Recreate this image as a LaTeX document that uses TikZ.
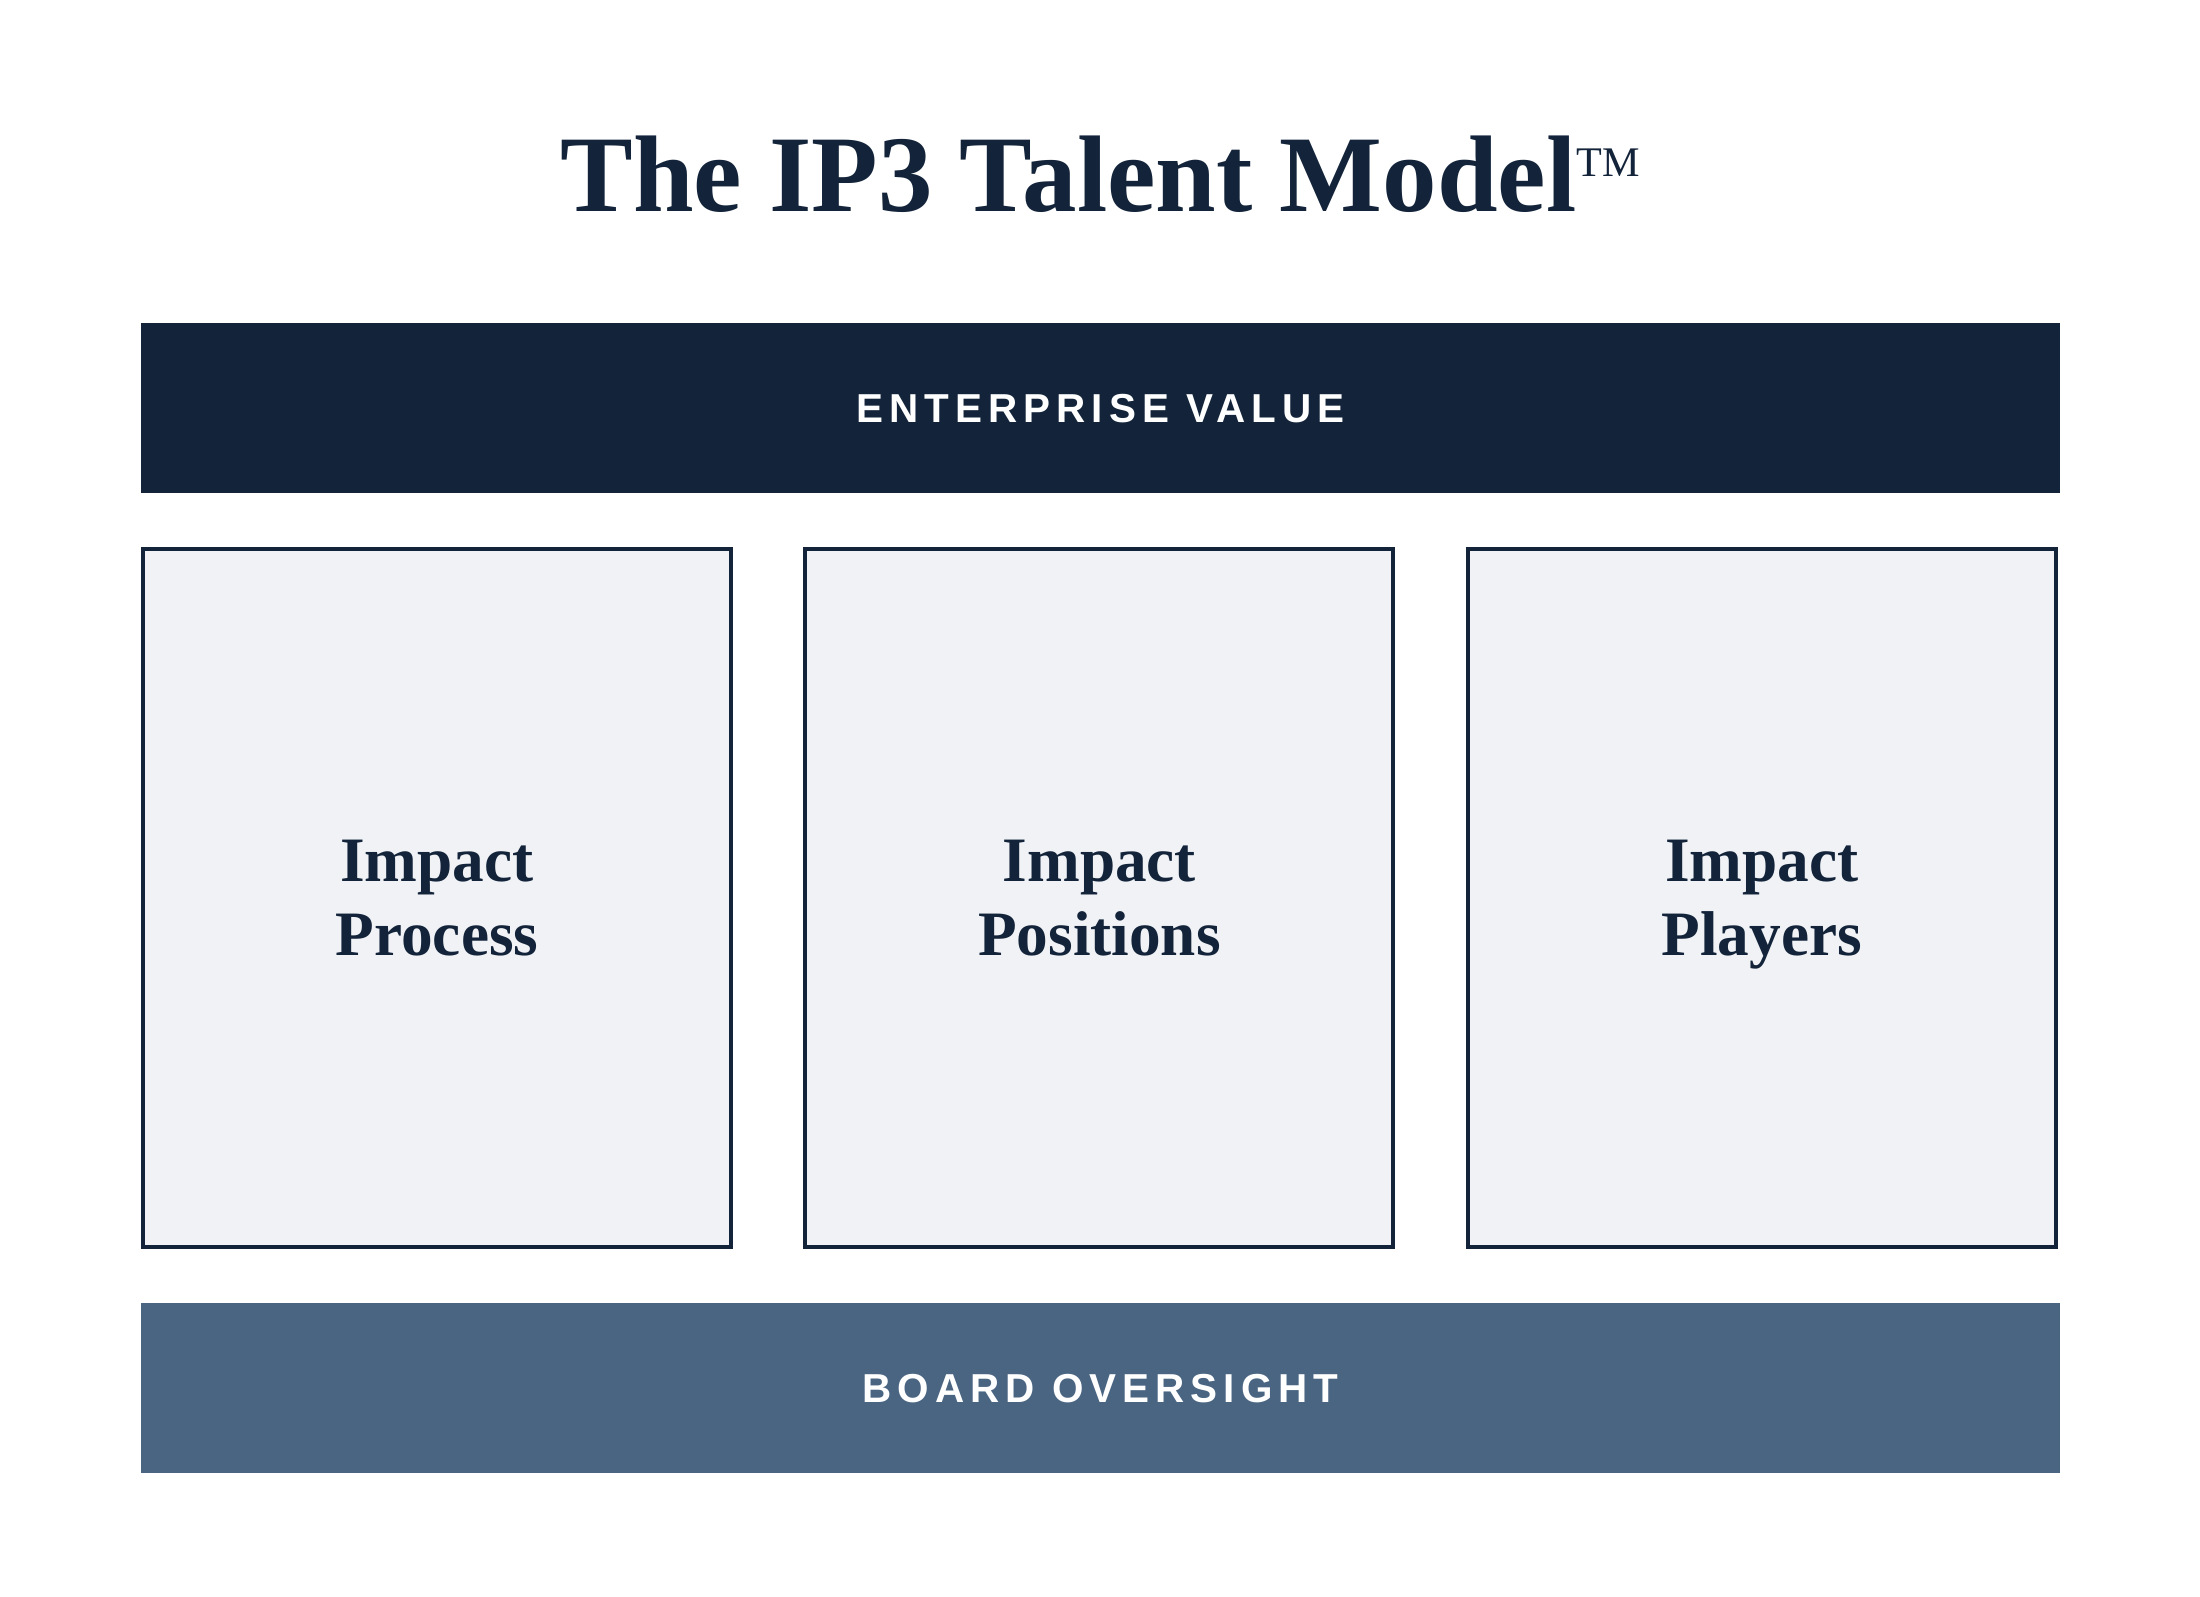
\documentclass[tikz,border=0pt]{standalone}
\usepackage{fontspec}
\setmainfont{Liberation Serif}
\newfontfamily\barfont[LetterSpace=15]{Liberation Sans}
\usepackage{tikz}
\usetikzlibrary{positioning}

\definecolor{navy}{HTML}{13243A}
\definecolor{slate}{HTML}{4A6582}
\definecolor{paper}{HTML}{F0F2F6}

\tikzset{
  band/.style={minimum width=19.19cm, minimum height=1.70cm, inner sep=0pt,
    text=white, font=\barfont\bfseries\fontsize{11.5}{14}\selectfont},
  pillar/.style={draw=navy, line width=1.1pt, fill=paper, minimum width=5.88cm,
    minimum height=6.98cm, inner sep=0pt, text=navy, align=center, text depth=0pt,
    font=\bfseries\fontsize{18}{21}\selectfont}
}

\begin{document}
\begin{tikzpicture}
		\useasboundingbox (0,0) rectangle (22,15.97);
		% title
		\node[anchor=base, text=navy, inner sep=0pt, font=\bfseries\fontsize{31}{36}\selectfont] (title) at (11.0,13.85)
			{The IP3 Talent Model\raisebox{10pt}{\mdseries\fontsize{12}{12}\selectfont TM}};
		% top band
		\node[band, fill=navy] (value) at (11.005,11.885) {ENTERPRISE VALUE};
		% three pillars
		\node[pillar] (process) at (4.37,6.99) {Impact\\Process};
		\node[pillar, right=0.705cm of process] (positions) {Impact\\Positions};
		\node[pillar, right=0.705cm of positions] (players) {Impact\\Players};
		% bottom band
		\node[band, fill=slate] (board) at (11.005,2.085) {BOARD OVERSIGHT};
\end{tikzpicture}
\end{document}
